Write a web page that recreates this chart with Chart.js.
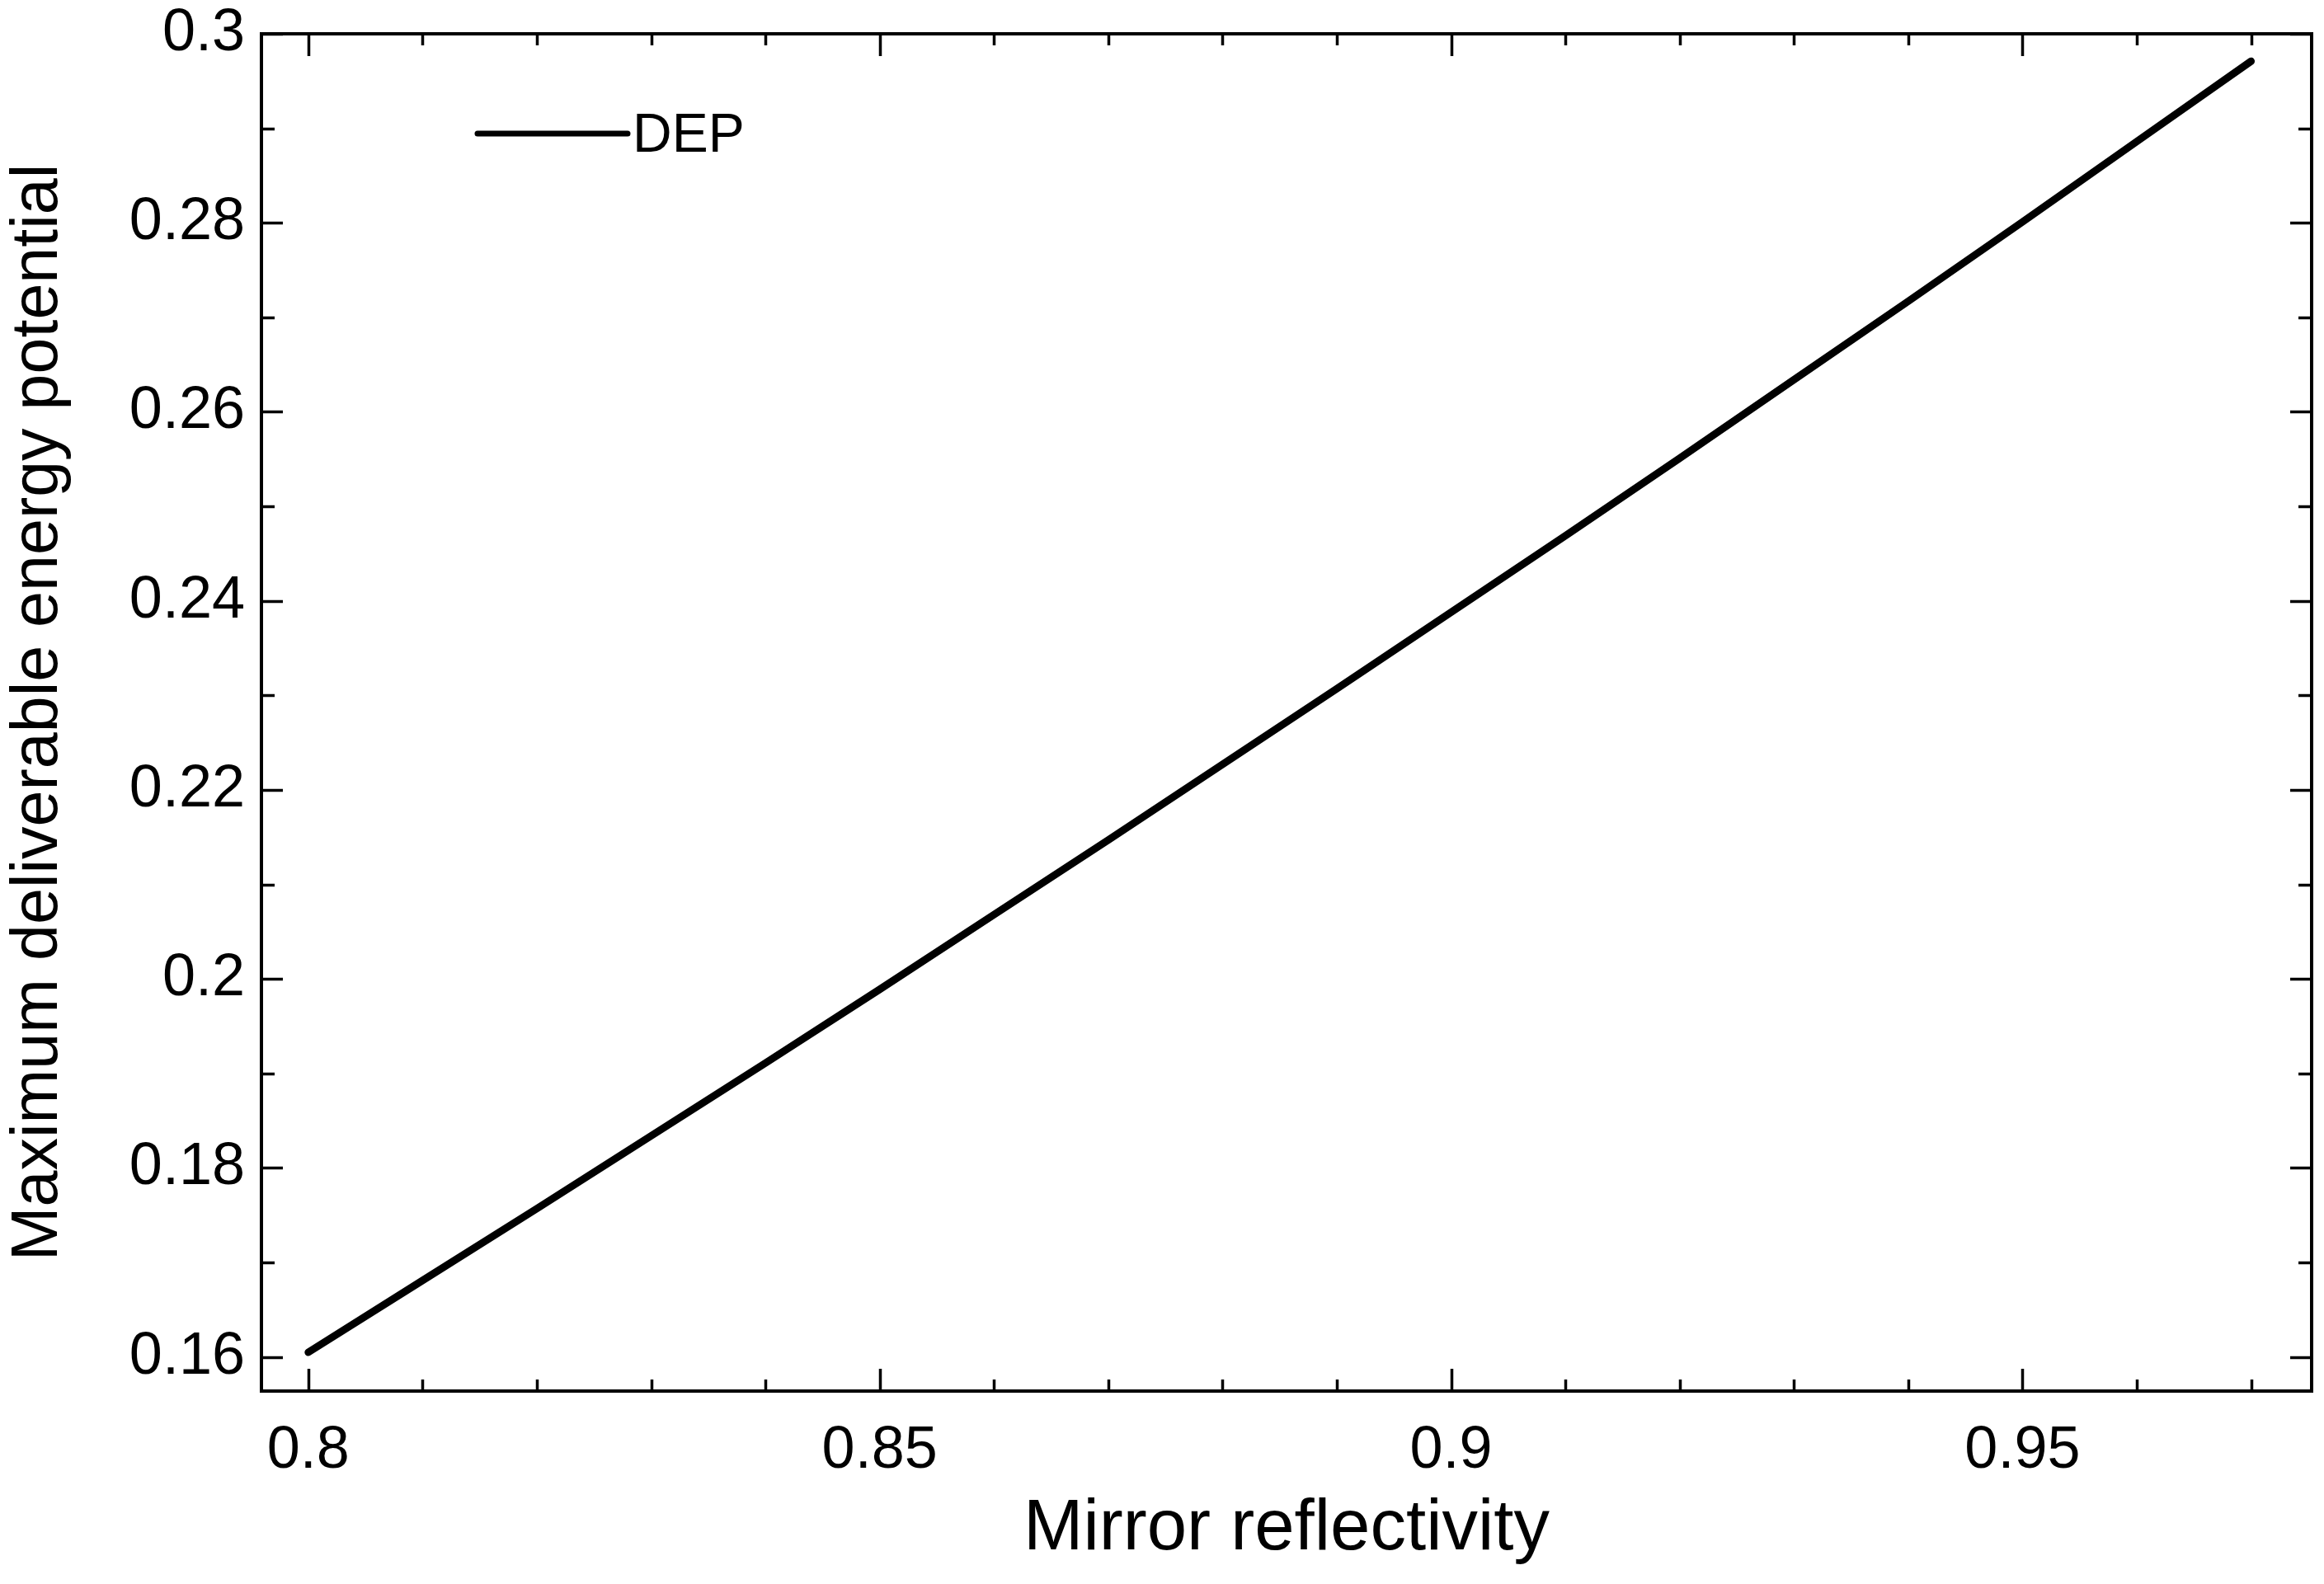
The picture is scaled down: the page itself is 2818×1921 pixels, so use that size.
<!DOCTYPE html>
<html>
<head>
<meta charset="utf-8">
<title>Mirror reflectivity vs DEP</title>
<script src="https://cdn.jsdelivr.net/npm/chart.js@4.4.1/dist/chart.umd.min.js"></script>
<style>
    html, body { margin: 0; padding: 0; background: #fff; }
    canvas { display: block; }
</style>
</head>
<body>
<canvas id="dep-chart" width="2818" height="1921"></canvas>
<script>
// values
const reflectivity = [0.80, 0.81, 0.82, 0.83, 0.84, 0.85, 0.86, 0.87, 0.88,
    0.89, 0.90, 0.91, 0.92, 0.93, 0.94, 0.95, 0.96, 0.97];
const depValues = [0.1605, 0.1681, 0.1757, 0.1834, 0.1911, 0.1989, 0.2068, 0.2147, 0.2227,
    0.2307, 0.2388, 0.2469, 0.2551, 0.2634, 0.2717, 0.2801, 0.2886, 0.2971];

// tick labels and minor tick positions
const xTickLabels = [0.8, 0.85, 0.9, 0.95];
const xMinorTicks = [0.80, 0.81, 0.82, 0.83, 0.84, 0.85, 0.86, 0.87, 0.88,
    0.89, 0.90, 0.91, 0.92, 0.93, 0.94, 0.95, 0.96, 0.97];
const yTickLabels = [0.16, 0.18, 0.2, 0.22, 0.24, 0.26, 0.28, 0.3];
const yMinorTicks = [0.16, 0.17, 0.18, 0.19, 0.20, 0.21, 0.22, 0.23, 0.24,
    0.25, 0.26, 0.27, 0.28, 0.29, 0.30];

const fontFamily = '"Liberation Sans", Arial, sans-serif';

const fmt = (v) => String(Math.round(v * 1000) / 1000);

// frame box + inward ticks on all four sides (origin style)
const frameTicks = {
    id: 'frameTicks',
    afterDraw(chart) {
        const { ctx, chartArea: a } = chart;
        const xs = chart.scales.x;
        const ys = chart.scales.y;
        ctx.save();
        ctx.strokeStyle = '#000';
        ctx.lineWidth = 3.5;
        ctx.beginPath();
        xMinorTicks.forEach((v) => {
            const len = xTickLabels.some(t => Math.abs(t - v) < 1e-6) ? 27 : 14;
            const px = Math.round(xs.getPixelForValue(v)) + 0.5;
            ctx.moveTo(px, a.bottom); ctx.lineTo(px, a.bottom - len);
            ctx.moveTo(px, a.top); ctx.lineTo(px, a.top + len);
        });
        yMinorTicks.forEach((v) => {
            const len = yTickLabels.some(t => Math.abs(t - v) < 1e-6) ? 26 : 16;
            const py = Math.round(ys.getPixelForValue(v)) + 0.5;
            ctx.moveTo(a.left, py); ctx.lineTo(a.left + len, py);
            ctx.moveTo(a.right, py); ctx.lineTo(a.right - len, py);
        });
        ctx.stroke();
        ctx.lineWidth = 4;
        ctx.strokeRect(a.left, a.top, a.right - a.left, a.bottom - a.top);
        ctx.restore();
    }
};

// legend sitting inside the plot, top left
const insideLegend = {
    id: 'insideLegend',
    afterDraw(chart) {
        const { ctx, chartArea: a } = chart;
        const ds = chart.data.datasets[0];
        const y = a.top + 121;
        ctx.save();
        ctx.strokeStyle = ds.borderColor;
        ctx.lineWidth = 7;
        ctx.lineCap = 'round';
        ctx.beginPath();
        ctx.moveTo(a.left + 262, y);
        ctx.lineTo(a.left + 444, y);
        ctx.stroke();
        ctx.fillStyle = '#000';
        ctx.font = '66px ' + fontFamily;
        ctx.textBaseline = 'alphabetic';
        ctx.fillText(ds.label, a.left + 450, a.top + 143);
        ctx.restore();
    }
};

const chartEl = document.getElementById('dep-chart').getContext('2d');

const depChart = new Chart(chartEl, {
    type: 'line',
    data: {
        datasets: [{
            label: 'DEP',
            data: reflectivity.map((r, i) => ({ x: r, y: depValues[i] })),
            borderColor: '#000',
            borderWidth: 9,
            borderCapStyle: 'round',
            borderJoinStyle: 'round',
            pointRadius: 0,
            tension: 0,
            fill: false
        }]
    },
    options: {
        responsive: false,
        devicePixelRatio: 1,
        animation: false,
        layout: {
            padding: { top: 41, right: 15, left: 0, bottom: 0 }
        },
        plugins: {
            legend: { display: false },
            tooltip: { enabled: false }
        },
        scales: {
            x: {
                type: 'linear',
                min: 0.7959,
                max: 0.9753,
                afterBuildTicks: (scale) => {
                    scale.ticks = xTickLabels.map(v => ({ value: v }));
                },
                afterFit: (scale) => {
                    scale.height = 234;
                    scale.paddingLeft = 0;
                    scale.paddingRight = 0;
                },
                grid: { display: false, drawTicks: false },
                border: { display: false },
                ticks: {
                    color: '#000',
                    padding: 30,
                    autoSkip: false,
                    maxRotation: 0,
                    font: { family: fontFamily, size: 72 },
                    callback: fmt
                },
                title: {
                    display: true,
                    text: 'Mirror reflectivity',
                    color: '#000',
                    padding: { top: 0, bottom: 14 },
                    font: { family: fontFamily, size: 87 }
                }
            },
            y: {
                type: 'linear',
                min: 0.1564,
                max: 0.3,
                afterBuildTicks: (scale) => {
                    scale.ticks = yTickLabels.map(v => ({ value: v }));
                },
                afterFit: (scale) => {
                    scale.width = 317;
                    scale.paddingTop = 0;
                    scale.paddingBottom = 0;
                },
                grid: { display: false, drawTicks: false },
                border: { display: false },
                ticks: {
                    color: '#000',
                    padding: 20,
                    autoSkip: false,
                    font: { family: fontFamily, size: 72 },
                    callback: fmt
                },
                title: {
                    display: true,
                    text: 'Maximum deliverable energy potential',
                    color: '#000',
                    padding: { top: 0, bottom: 0 },
                    font: { family: fontFamily, size: 79 }
                }
            }
        }
    },
    plugins: [frameTicks, insideLegend]
});
</script>
</body>
</html>
